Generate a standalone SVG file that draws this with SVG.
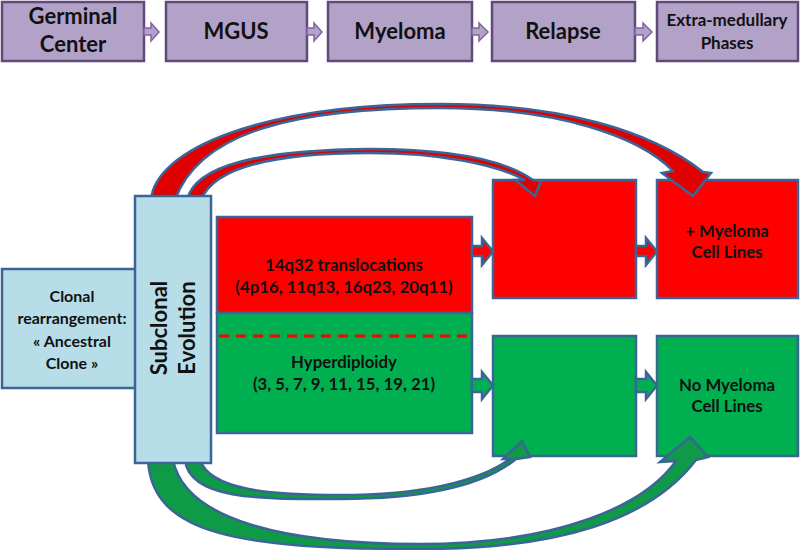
<svg xmlns="http://www.w3.org/2000/svg" width="800" height="550" viewBox="0 0 800 550">
<style>
text{font-family:Lato,"Liberation Sans",Arial,sans-serif;font-weight:bold;text-anchor:middle;fill:#111}
.ph{fill:#B3A2C7;stroke:#604A7B;stroke-width:2.5}
.parr{fill:#B3A2C7;stroke:#8064A2;stroke-width:1.5}
.blue{fill:#B7DEE8;stroke:#3A6596;stroke-width:2.5}
.red{fill:#FF0000;stroke:#3A6596;stroke-width:2.5}
.green{fill:#00B050;stroke:#3A6596;stroke-width:2.5}
.arr{stroke:#3A6596;stroke-width:2.5;stroke-linejoin:miter}
.t22{font-size:22px}
.t17{font-size:17px}
.t16{font-size:16px}
.tm{font-size:16.8px}
</style>
<rect width="800" height="550" fill="#fff"/>
<g id="phase-germinal"><rect class="ph" x="2" y="2" width="142" height="59"/><text class="t22" x="73" y="24">Germinal</text><text class="t22" x="73" y="52">Center</text></g>
<g id="phase-mgus"><rect class="ph" x="166" y="2" width="141" height="59"/><text class="t22" x="236" y="39">MGUS</text></g>
<g id="phase-myeloma"><rect class="ph" x="328" y="2" width="144" height="59"/><text class="t22" x="400" y="39">Myeloma</text></g>
<g id="phase-relapse"><rect class="ph" x="492" y="2" width="143" height="59"/><text class="t22" x="563" y="39">Relapse</text></g>
<g id="phase-extra"><rect class="ph" x="657" y="2" width="141" height="59"/><text class="t17" x="727" y="26">Extra-medullary</text><text class="t17" x="727" y="49">Phases</text></g>
<g id="clonal"><rect class="blue" x="2" y="269" width="142" height="119"/><text class="t16" x="72" y="302">Clonal</text><text class="t16" x="72" y="324">rearrangement:</text><text class="t16" x="72" y="347">« Ancestral</text><text class="t16" x="72" y="369">Clone »</text></g>
<g id="translocations"><rect class="red" x="217" y="217" width="255" height="96"/><text class="tm" x="344" y="271">14q32 translocations</text><text class="tm" x="344" y="293">(4p16, 11q13, 16q23, 20q11)</text></g>
<g id="hyperdiploidy"><rect class="green" x="217" y="313" width="255" height="120"/><line x1="219" y1="336" x2="471" y2="336" stroke="#FF0000" stroke-width="3" stroke-dasharray="10 7"/><text class="tm" x="344" y="368">Hyperdiploidy</text><text class="tm" x="344" y="390">(3, 5, 7, 9, 11, 15, 19, 21)</text></g>
<g id="red-mid"><rect class="red" x="493" y="180" width="143" height="118"/></g>
<g id="red-right"><rect class="red" x="657" y="180" width="141" height="118"/><text class="tm" x="727" y="237">+ Myeloma</text><text class="tm" x="727" y="258">Cell Lines</text></g>
<g id="green-mid"><rect class="green" x="493" y="336" width="143" height="120"/></g>
<g id="green-right"><rect class="green" x="657" y="336" width="141" height="120"/><text class="tm" x="727" y="391">No Myeloma</text><text class="tm" x="727" y="412">Cell Lines</text></g>
<g id="connectors">
<path class="parr" d="M144,28H151V23L159,32L151,41V35H144Z"/>
<path class="parr" d="M307,28H314V23L322,32L314,41V35H307Z"/>
<path class="parr" d="M472,28H479V23L488,32L479,41V35H472Z"/>
<path class="parr" d="M635,28H643V23L652,32L643,41V35H635Z"/>
<path class="red arr" d="M472,246H482V238L493,251.5L482,265V256H472Z"/>
<path class="red arr" d="M636,246H646V238L657,251.5L646,265V256H636Z"/>
<path class="green arr" d="M472,379H482V372L493,385.5L482,399V392H472Z"/>
<path class="green arr" d="M636,379H646V372L657,385.5L646,399V392H636Z"/>
<path class="arr" fill="#E00000" d="M151,200C155,150 260,104 440,104C560,104 650,130 703,172L711,173L693,196L662,173L673,171C640,137 560,108 440,108C300,108 200,130 175,200Z"/>
<path class="arr" fill="#E00000" d="M187,200C195,165 260,150 370,149C450,149 505,160 533,180L541,181L535,196L515,180L525,180C495,164 440,153 370,153C280,153 215,165 201,200Z"/>
<path class="arr" fill="#0E9A46" d="M148,460C152,535 240,549 420,549C560,549 650,520 696,460L708,457L690,437L660,462L676,461C645,505 560,544 420,544C285,544 185,520 173,460Z"/>
<path class="arr" fill="#0E9A46" d="M185,460C190,500 260,499 340,499C420,499 482,487 516,459L530,457L522,441L503,459L510,459C478,482 420,495 340,495C270,495 210,490 200,460Z"/>
</g>
<g id="subclonal"><rect class="blue" x="135" y="196" width="76" height="267"/><text class="t22" transform="translate(167,328) rotate(-90)">Subclonal</text><text class="t22" transform="translate(195,328) rotate(-90)">Evolution</text></g>
</svg>
